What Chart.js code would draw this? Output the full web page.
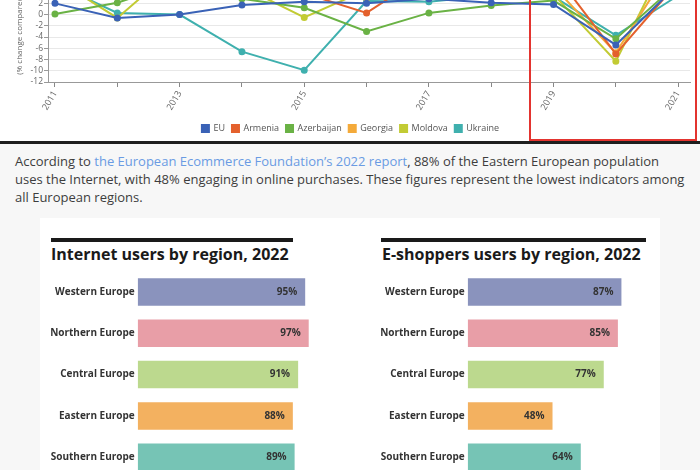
<!DOCTYPE html>
<html>
<head>
<meta charset="utf-8">
<script src="https://cdn.jsdelivr.net/npm/chart.js@4.4.1/dist/chart.umd.min.js"></script>
<style>
  body { margin: 0; width: 700px; height: 470px; overflow: hidden; position: relative; background: #f7f7f7; font-family: "Open Sans", sans-serif; }
  #growth-wrap { position: absolute; left: 0; top: 0; width: 700px; height: 141px; overflow: hidden; background: #fff; }
  #chart-growth { position: absolute; left: 0; top: -85px; }
  #focus-box { position: absolute; left: 529px; top: -4px; width: 168px; height: 145px; box-sizing: border-box; border: 2px solid #e3342f; }
  #rule { position: absolute; left: 0; top: 141px; width: 700px; height: 3px; background: #1e1e1e; }
  #intro { position: absolute; left: 15px; top: 152px; width: 670px; margin: 0; font-size: 13px; line-height: 18px; color: #3d3d3d; }
  #intro a { color: #6a9be3; text-decoration: none; }
  #card { position: absolute; left: 40px; top: 218px; width: 620px; height: 260px; background: #fff; }
  .panel-rule { position: absolute; top: 238px; height: 4px; background: #1a1a1a; }
  .panel-title { position: absolute; top: 244px; margin: 0; font-size: 16px; font-weight: 700; line-height: 20px; color: #1a1a1a; white-space: nowrap; }
  .panel-chart { position: absolute; top: 270px; }
</style>
</head>
<body>
<div id="growth-wrap">
  <canvas id="chart-growth" width="700" height="230"></canvas>
  <div id="focus-box"></div>
</div>
<div id="rule"></div>
<p id="intro">According to <a href="#">the European Ecommerce Foundation’s 2022 report</a>, 88% of the Eastern European population uses the Internet, with 48% engaging in online purchases. These figures represent the lowest indicators among all European regions.</p>
<div id="card"></div>
<div class="panel-rule" style="left:51px;width:242px"></div>
<h3 class="panel-title" style="left:51px">Internet users by region, 2022</h3>
<div class="panel-rule" style="left:381px;width:265px"></div>
<h3 class="panel-title" style="left:382px">E-shoppers users by region, 2022</h3>
<canvas id="chart-internet" class="panel-chart" style="left:40px" width="290" height="212"></canvas>
<canvas id="chart-eshoppers" class="panel-chart" style="left:370px" width="290" height="212"></canvas>

<script>
Chart.defaults.font.family = "'Open Sans', sans-serif";

// GDP growth, % change compared to previous year
const years = [2011, 2012, 2013, 2014, 2015, 2016, 2017, 2018, 2019, 2020, 2021];
const euGrowth = [2.0, -0.6, 0.0, 1.7, 2.3, 2.0, 2.8, 2.1, 1.8, -5.4, 5.4];
const armeniaGrowth = [4.7, 7.2, 3.3, 3.6, 3.8, 0.3, 7.5, 5.2, 7.6, -7.0, 5.8];
const azerbaijanGrowth = [0.1, 2.1, 5.8, 2.8, 1.2, -3.0, 0.3, 1.6, 2.5, -4.3, 5.6];
const georgiaGrowth = [7.2, 6.4, 3.4, 4.4, 3.0, 2.9, 4.8, 4.8, 5.0, -6.8, 10.5];
const moldovaGrowth = [6.4, -0.6, 9.0, 5.0, -0.5, 4.4, 4.2, 4.1, 3.6, -8.3, 13.9];
const ukraineGrowth = [5.5, 0.3, 0.0, -6.6, -9.9, 2.4, 2.3, 3.4, 3.2, -3.7, 3.4];

const seriesNames = ["EU", "Armenia", "Azerbaijan", "Georgia", "Moldova", "Ukraine"];
const seriesValues = [euGrowth, armeniaGrowth, azerbaijanGrowth, georgiaGrowth, moldovaGrowth, ukraineGrowth];
const seriesColors = ["#3a62b6", "#e4612d", "#6ab245", "#f4aa3a", "#c2cb34", "#3fb0ae"];

// Internet / e-shoppers by region, 2022
const regions = ["Western Europe", "Northern Europe", "Central Europe", "Eastern Europe", "Southern Europe"];
const internetUsers = [95, 97, 91, 88, 89];
const eShoppers = [87, 85, 77, 48, 64];
const regionColors = ["#8a93bd", "#e89ea7", "#bcd98e", "#f3b160", "#76c4b5"];

// Line chart (top, cropped)
const growthChart = new Chart(document.getElementById("chart-growth").getContext("2d"), {
  type: "line",
  data: {
    datasets: seriesNames.map((name, i) => ({
      label: name,
      data: years.map((year, j) => ({ x: year, y: seriesValues[i][j] })),
      borderColor: seriesColors[i],
      backgroundColor: seriesColors[i],
      borderWidth: 2,
      pointRadius: 2.5,
      tension: 0
    }))
  },
  options: {
    responsive: false,
    animation: false,
    layout: { padding: { top: 9.7, left: 11, right: 10, bottom: 2 } },
    plugins: {
      legend: {
        position: "bottom",
        labels: { boxWidth: 7, boxHeight: 7, padding: 7, color: "#555", font: { size: 9 } }
      },
      tooltip: { enabled: false }
    },
    scales: {
      x: {
        type: "linear",
        min: 2010.888,
        max: 2021.19,
        afterBuildTicks: scale => { scale.ticks = years.map(v => ({ value: v })); },
        afterFit: scale => { scale.height = 35; },
        grid: { drawOnChartArea: false, tickLength: 5, color: "#888" },
        border: { color: "#999" },
        ticks: {
          autoSkip: false,
          minRotation: 60,
          maxRotation: 60,
          padding: 2,
          color: "#666",
          font: { size: 9 },
          callback: v => (v % 2 === 1 ? String(v) : "")
        }
      },
      y: {
        min: -12,
        max: 16,
        afterFit: scale => { scale.width = 37; },
        ticks: { stepSize: 2, autoSkip: false, padding: 1, color: "#666", font: { size: 8.5 } },
        grid: { color: "#e8e8e8", tickLength: 4, tickColor: "#999" },
        border: { color: "#999" },
        title: { display: true, text: "(% change compared to previous year)", color: "#666", font: { size: 8 } }
      }
    }
  }
});

// Percent labels inside the bars
const valueLabels = {
  id: "valueLabels",
  afterDatasetsDraw(chart) {
    const ctx = chart.ctx;
    const meta = chart.getDatasetMeta(0);
    ctx.save();
    ctx.font = "bold 10px 'Open Sans'";
    ctx.fillStyle = "#333";
    ctx.textAlign = "right";
    ctx.textBaseline = "middle";
    meta.data.forEach((bar, i) => {
      ctx.fillText(chart.data.datasets[0].data[i] + "%", bar.x - 8, bar.y);
    });
    ctx.restore();
  }
};

function makeRegionChart(canvasId, values, padRight) {
  return new Chart(document.getElementById(canvasId).getContext("2d"), {
    type: "bar",
    data: {
      labels: regions,
      datasets: [{
        data: values,
        backgroundColor: regionColors,
        barPercentage: 0.667,
        categoryPercentage: 1
      }]
    },
    options: {
      indexAxis: "y",
      responsive: false,
      animation: false,
      layout: { padding: { top: 1.35, bottom: 4.15, left: 0, right: padRight } },
      plugins: { legend: { display: false }, tooltip: { enabled: false } },
      scales: {
        x: { display: false, min: 0, max: 100 },
        y: {
          // fixed label column, no extra room for the edge labels
          afterFit: scale => {
            scale.width = 97.7;
            scale.paddingTop = 0;
            scale.paddingBottom = 0;
          },
          grid: { display: false, drawTicks: false },
          border: { display: false },
          ticks: { padding: 3, color: "#333", font: { size: 10, weight: "bold" } }
        }
      }
    },
    plugins: [valueLabels]
  });
}

const internetChart = makeRegionChart("chart-internet", internetUsers, 16);
const eshoppersChart = makeRegionChart("chart-eshoppers", eShoppers, 15.6);
</script>
</body>
</html>
